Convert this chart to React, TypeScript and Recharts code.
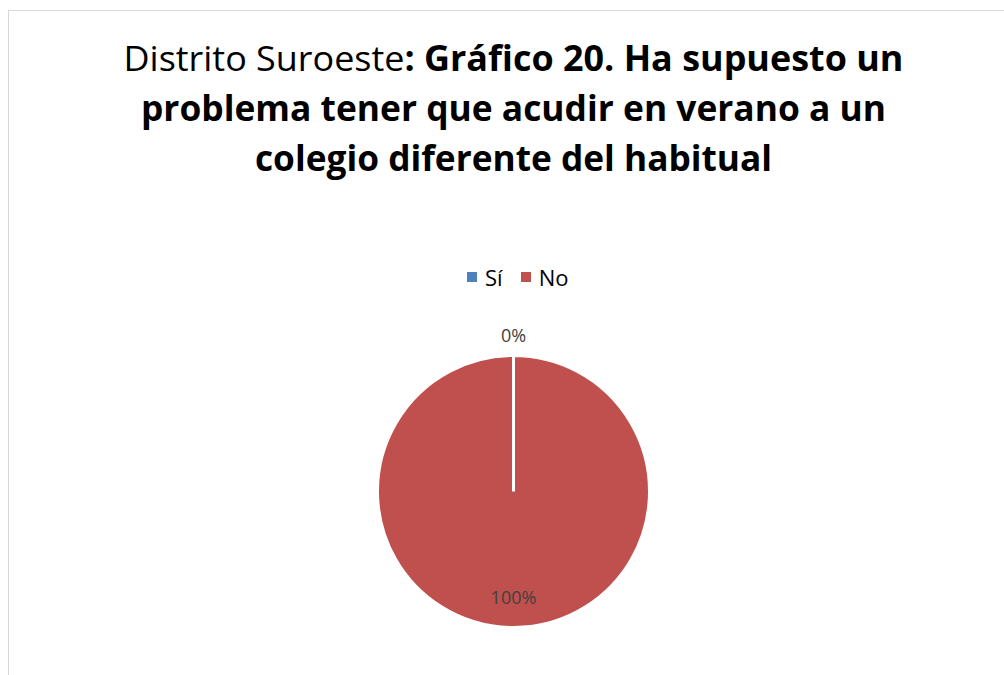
import React from "react";
import { PieChart, Pie, Cell } from "recharts";

const categories = ["Sí", "No"];
const values = [0, 100];
const colors = ["#4F81BD", "#C0504D"];
const titleLines = [
  { regular: "Distrito Suroeste", bold: ": Gráfico 20. Ha supuesto un" },
  { regular: "", bold: "problema tener que acudir en verano a un" },
  { regular: "", bold: "colegio diferente del habitual" },
];

const data = categories.map((name, i) => ({ name, value: values[i] }));
const total = values.reduce((a, b) => a + b, 0);

const FONT = "'Open Sans', 'Noto Sans', sans-serif";
const RAD = Math.PI / 180;

const renderLabel = (props: any) => {
  const { cx, cy, midAngle, outerRadius, value } = props;
  const pct = Math.round((value / total) * 100);
  const r = pct === 0 ? outerRadius + 21 : outerRadius - 31;
  const x = cx + r * Math.cos(-midAngle * RAD);
  const y = cy + r * Math.sin(-midAngle * RAD);
  return (
    <text
      x={x}
      y={y}
      fill="#404040"
      fontSize={18}
      fontFamily={FONT}
      textAnchor="middle"
      dominantBaseline="central"
    >
      {pct + "%"}
    </text>
  );
};

const lineWidths = [780, 745, 517];
const baselines = [71, 121, 171];

export default function App() {
  return (
    <div
      style={{
        position: "absolute",
        left: 8,
        top: 10,
        width: 1010,
        height: 680,
        border: "1px solid #d9d9d9",
        boxSizing: "border-box",
        background: "#fff",
      }}
    >
      <svg
        width={1008}
        height={200}
        style={{ position: "absolute", left: 0, top: 0 }}
      >
        {titleLines.map((l, i) => (
          <text
            key={i}
            x={504.5}
            y={baselines[i] - 11}
            textAnchor="middle"
            fontFamily={FONT}
            fontSize={35}
            fill="#000"
            textLength={lineWidths[i]}
            lengthAdjust="spacingAndGlyphs"
          >
            {l.regular && <tspan fontWeight={400}>{l.regular}</tspan>}
            <tspan fontWeight={700}>{l.bold}</tspan>
          </text>
        ))}
      </svg>
      <div
        style={{
          position: "absolute",
          left: 458,
          top: 251,
          height: 30,
          display: "flex",
          alignItems: "center",
          fontFamily: FONT,
          fontSize: 22,
          color: "#000",
          lineHeight: "30px",
        }}
      >
        {categories.map((c, i) => (
          <div key={c} style={{ display: "flex", alignItems: "center", marginRight: i === 0 ? 18 : 0 }}>
            <span
              style={{
                display: "inline-block",
                width: 10,
                height: 10,
                background: colors[i],
                marginRight: 8,
              }}
            />
            <span>{c}</span>
          </div>
        ))}
      </div>
      <div style={{ position: "absolute", left: 0, top: 0 }}>
        <PieChart width={1008} height={670} margin={{ top: 0, right: 0, bottom: 0, left: 0 }}>
          <Pie
            data={data}
            dataKey="value"
            nameKey="name"
            cx={504.5}
            cy={480.5}
            outerRadius={136}
            startAngle={90}
            endAngle={-270}
            stroke="#fff"
            strokeWidth={3}
            label={renderLabel}
            labelLine={false}
            isAnimationActive={false}
          >
            {data.map((d, i) => (
              <Cell key={d.name} fill={colors[i]} />
            ))}
          </Pie>
        </PieChart>
      </div>
    </div>
  );
}
